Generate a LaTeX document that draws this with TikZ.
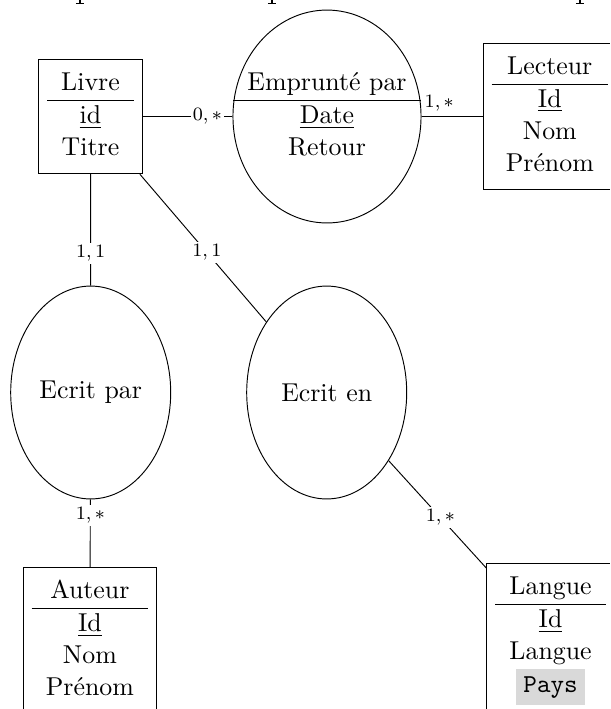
\documentclass[tikz,border=0pt,11pt]{standalone}
\usetikzlibrary{shapes.geometric}
\begin{document}
\begin{tikzpicture}[x=0.4237pt, y=-0.4237pt,
  ent/.style={draw, rectangle, inner sep=0.3333em, line width=0.4pt},
  rel/.style={draw, ellipse, inner sep=0pt, minimum height=90.2pt, line width=0.4pt},
  lbl/.style={font=\scriptsize, fill=white, inner sep=1pt},
  lblabove/.style={font=\scriptsize, inner sep=2pt, above},
  conn/.style={line width=0.4pt}]
\useasboundingbox (0,0) rectangle (610,709);
\clip (0,0) rectangle (610,709);

% entities
\node[ent] (livre) at (90.5,116.5) {\begin{tabular}{c}Livre\\\hline\underline{id}\\Titre\end{tabular}};
\node[ent] (lecteur) at (549.8,116.5) {\begin{tabular}{c}Lecteur\\\hline\underline{Id}\\Nom\\Prénom\end{tabular}};
\node[ent, anchor=north] (auteur) at (89.9,567) {\begin{tabular}{c}Auteur\\\hline\underline{Id}\\Nom\\Prénom\end{tabular}};
\node[ent, anchor=north] (langue) at (550.6,563) {\begin{tabular}{c}Langue\\\hline\underline{Id}\\Langue\\\colorbox{black!15}{\ttfamily Pays}\end{tabular}};

% relations
\node[rel, minimum width=79.7pt] (emp) at (327,116.5) {};
\node[inner sep=0pt] (empt) at (emp.center) {\begin{tabular}{c}Emprunté par\\\hline\underline{Date}\\Retour\end{tabular}};
\node[rel, minimum width=67.8pt] (ecritpar) at (90.7,392.5) {Ecrit par};
\node[rel, minimum width=67.8pt] (ecriten) at (326.7,392.5) {Ecrit en};

% connectors
\draw[conn] (livre) -- node[lbl, pos=0.72] {$0,*$} (emp);
\draw[conn] (emp) -- node[lblabove, pos=0.29] {$1,*$} (lecteur);
\draw[conn] (livre) -- node[lbl, pos=0.71] {$1,1$} (ecritpar);
\draw[conn] (livre) -- node[lbl, pos=0.53] {$1,1$} (ecriten);
\draw[conn] (ecritpar) -- node[lbl, pos=0.235] {$1,*$} (auteur);
\draw[conn] (ecriten) -- node[lbl, pos=0.53] {$1,*$} (langue);

% fragments of cut-off glyphs at the top edge
\foreach \fx in {80,272,580} {
  \draw[line width=0.9pt] (\fx,0) -- (\fx,3.5);
  \draw[line width=0.4pt] (\fx-4,3.8) -- (\fx+4,3.8);
}
\end{tikzpicture}
\end{document}
